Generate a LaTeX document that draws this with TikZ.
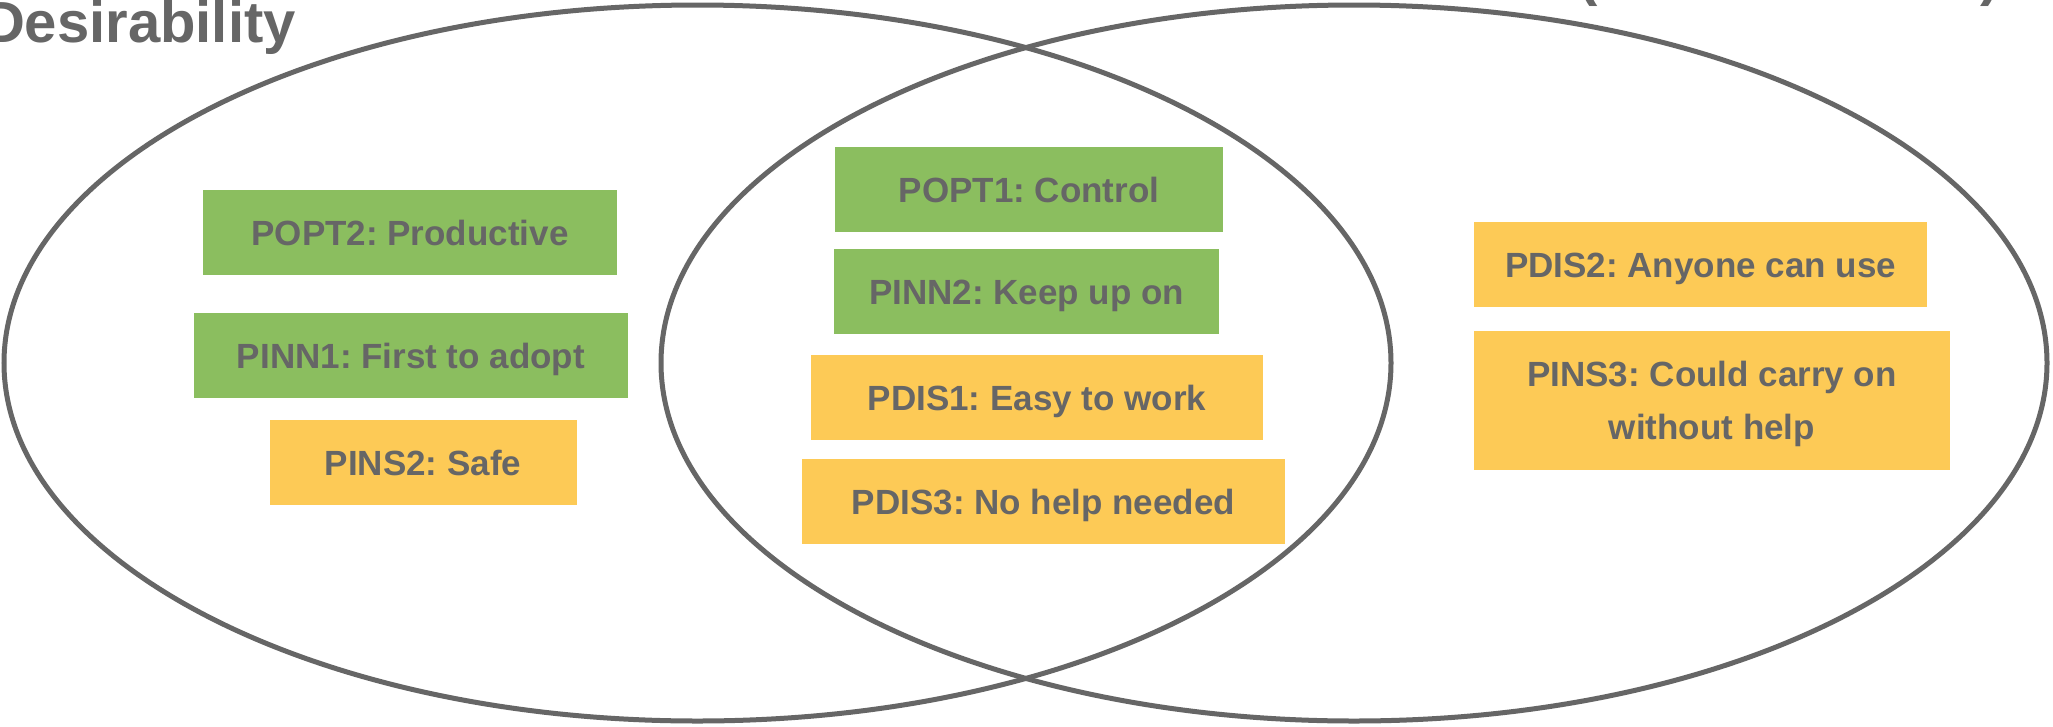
\documentclass[tikz,border=0pt]{standalone}
\usepackage{fontspec}
\setmainfont{Liberation Sans}
\frenchspacing
\definecolor{txtgray}{HTML}{666666}
\definecolor{boxgreen}{HTML}{8BBE5F}
\definecolor{boxyellow}{HTML}{FDCA56}
\tikzset{
  venn/.style={draw=txtgray, line width=5pt},
  lbl/.style={inner sep=0pt, text=txtgray, font=\fontsize{35}{53}\selectfont\bfseries\frenchspacing,
              text height=25pt, text depth=0pt, align=center},
  gbox/.style={lbl, fill=boxgreen},
  ybox/.style={lbl, fill=boxyellow},
  title/.style={inner sep=0pt, text=txtgray, font=\fontsize{58}{66}\selectfont\bfseries}
}
\begin{document}
\begin{tikzpicture}[x=1pt, y=-1pt]
\useasboundingbox (0,0) rectangle (2053,726);
\clip (0,0) rectangle (2053,726);
\fill[white] (0,0) rectangle (2053,726);

% boxes
\node[gbox, minimum width=414pt, minimum height=85pt] (popt2) at (410,232.5) {POPT2: Productive};
\node[gbox, minimum width=434pt, minimum height=85pt] (pinn1) at (411,355.5) {PINN1: First to adopt};
\node[ybox, minimum width=307pt, minimum height=85pt] (pins2) at (423,462.5) {PINS2: Safe};

\node[gbox, minimum width=388pt, minimum height=85pt] (popt1) at (1029,189.5) {POPT1: Control};
\node[gbox, minimum width=385pt, minimum height=85pt] (pinn2) at (1026.5,291.5) {PINN2: Keep up on};
\node[ybox, minimum width=452pt, minimum height=85pt] (pdis1) at (1037,397.5) {PDIS1: Easy to work};
\node[ybox, minimum width=483pt, minimum height=85pt] (pdis3) at (1043.5,501.5) {PDIS3: No help needed};

\node[ybox, minimum width=453pt, minimum height=85pt] (pdis2) at (1700.5,264.5) {PDIS2: Anyone can use};
\node[ybox, minimum width=476pt, minimum height=139pt, text height=78pt, text depth=0pt] (pins3) at (1712,400.5) {PINS3: Could carry on\\without help};

% Venn ellipses
\draw[venn] (697.5,363) ellipse [x radius=693.5, y radius=358];
\draw[venn] (1354,363) ellipse [x radius=693, y radius=358];

% titles
\node[title, anchor=base east] (tdes) at (296,42) {Desirability};
\node[title, anchor=base] (tpl) at (1588,-6) {(};
\node[title, anchor=base] (tpr) at (1990,-6) {)};
\end{tikzpicture}
\end{document}
